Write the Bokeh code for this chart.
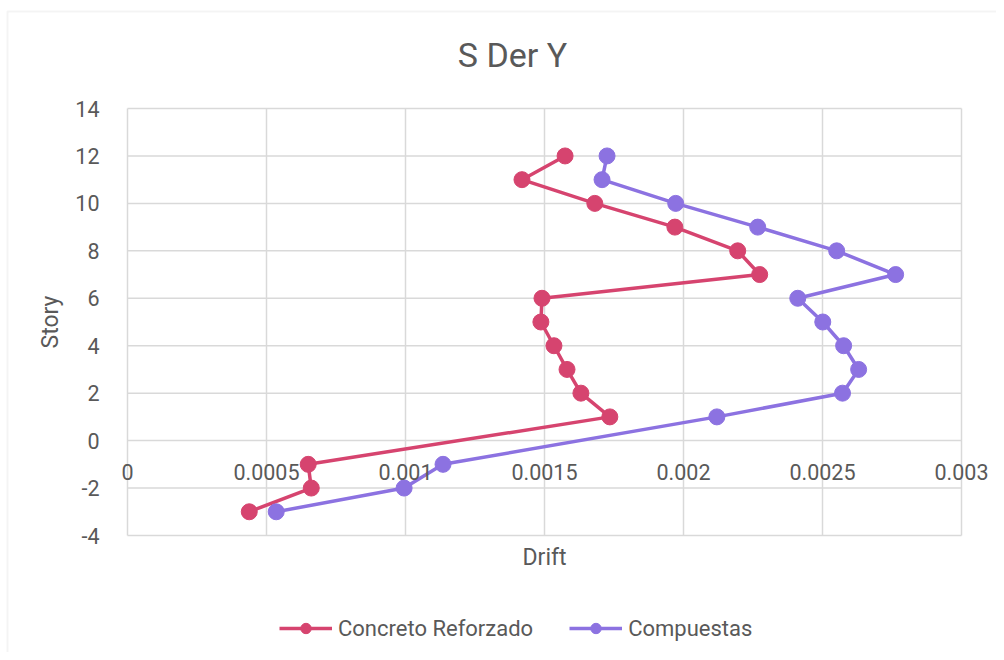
from bokeh.plotting import figure
from bokeh.models import (Range1d, FixedTicker, CustomJSTickFormatter, LinearAxis,
                          Legend, LegendItem, Label, BoxAnnotation)
from bokeh.embed import file_html
from bokeh.resources import INLINE

stories = [12, 11, 10, 9, 8, 7, 6, 5, 4, 3, 2, 1, -1, -2, -3]
concreto = [0.001574, 0.001419, 0.001681, 0.001969, 0.002195, 0.002274, 0.001491,
            0.001487, 0.001534, 0.001581, 0.001631, 0.001735, 0.000650, 0.000661, 0.000438]
compuestas = [0.001725, 0.001707, 0.001972, 0.002267, 0.002551, 0.002763, 0.002411,
              0.002501, 0.002576, 0.002630, 0.002572, 0.002120, 0.001135, 0.000995, 0.000535]
x_ticks = [0, 0.0005, 0.001, 0.0015, 0.002, 0.0025, 0.003]
y_ticks = [-4, -2, 0, 2, 4, 6, 8, 10, 12, 14]
series_names = ["Concreto Reforzado", "Compuestas"]

RED = "#D6446F"
PURPLE = "#8C72E1"
TXT = "#595959"
GRID = "#D9D9D9"
FONT = "Roboto"

# layout: the plot frame covers the whole canvas; the data box sits inside it
W, H = 996, 652
BOX_L, BOX_R, BOX_T, BOX_B = 127, 961, 108, 535   # pixel edges of the data box
XMIN, XMAX, YMIN, YMAX = x_ticks[0], x_ticks[-1], y_ticks[0], y_ticks[-1]
sx = (XMAX - XMIN) / (BOX_R - BOX_L)
sy = (YMAX - YMIN) / (BOX_B - BOX_T)
x_range = Range1d(XMIN - BOX_L * sx, XMIN + (W - BOX_L) * sx)
y_range = Range1d(YMAX - (H - BOX_T) * sy, YMAX + BOX_T * sy)

def px_x(px):
    return XMIN + (px - BOX_L) * sx

def px_y(py):
    return YMAX - (py - BOX_T) * sy

p = figure(width=W, height=H, output_backend="svg", toolbar_location=None,
           x_range=x_range, y_range=y_range, title=None,
           x_axis_location=None, y_axis_location=None,
           min_border=0, min_border_left=0, min_border_right=0,
           min_border_top=0, min_border_bottom=0)
p.outline_line_color = None
p.background_fill_color = "white"
p.border_fill_color = "white"
p.xgrid.visible = False
p.ygrid.visible = False

# chart-area border
p.add_layout(BoxAnnotation(left=px_x(7), right=px_x(W + 20), top=px_y(11), bottom=px_y(H + 20),
                           fill_alpha=0, line_color=GRID, line_width=2, level="underlay"))

# grid lines confined to the data box (from the tick lists)
p.segment(x0=x_ticks, x1=x_ticks, y0=[YMIN] * len(x_ticks), y1=[YMAX] * len(x_ticks),
          line_color=GRID, line_width=1.5)
p.segment(x0=[XMIN] * len(y_ticks), x1=[XMAX] * len(y_ticks), y0=y_ticks, y1=y_ticks,
          line_color=GRID, line_width=1.5)

fmt = "return tick.toString()"

# x axis crossing at y = 0 (labels only)
xa = LinearAxis(ticker=FixedTicker(ticks=x_ticks), fixed_location=0, bounds=(XMIN, XMAX),
                formatter=CustomJSTickFormatter(code=fmt))
xa.axis_line_color = None
xa.major_tick_line_color = None
xa.minor_tick_line_color = None
xa.major_label_text_font = FONT
xa.major_label_text_font_size = "21.5px"
xa.major_label_text_color = TXT
xa.major_label_standoff = 17
p.add_layout(xa, "below")

# y axis at x = 0
ya = LinearAxis(ticker=FixedTicker(ticks=y_ticks), fixed_location=0, bounds=(YMIN, YMAX),
                axis_label="Story", formatter=CustomJSTickFormatter(code=fmt))
ya.axis_line_color = None
ya.major_tick_line_color = None
ya.minor_tick_line_color = None
ya.major_label_text_font = FONT
ya.major_label_text_font_size = "21.5px"
ya.major_label_text_color = TXT
ya.major_label_standoff = 22
ya.axis_label_text_font = FONT
ya.axis_label_text_font_size = "23px"
ya.axis_label_text_font_style = "normal"
ya.axis_label_text_color = TXT
ya.axis_label_standoff = 8
p.add_layout(ya, "left")

# titles
p.add_layout(Label(x=px_x(512), y=px_y(54), text="S Der Y", text_font=FONT,
                   text_font_size="34px", text_color=TXT, text_align="center",
                   text_baseline="middle"))
p.add_layout(Label(x=(XMIN + XMAX) / 2, y=px_y(557), text="Drift", text_font=FONT,
                   text_font_size="23px", text_color=TXT, text_align="center",
                   text_baseline="middle"))

l1 = p.line(concreto, stories, line_color=RED, line_width=3.5)
s1 = p.scatter(concreto, stories, size=16, fill_color=RED, line_color=RED)
l2 = p.line(compuestas, stories, line_color=PURPLE, line_width=3.5)
s2 = p.scatter(compuestas, stories, size=16, fill_color=PURPLE, line_color=PURPLE)

legend = Legend(items=[LegendItem(label=series_names[0], renderers=[l1, s1]),
                       LegendItem(label=series_names[1], renderers=[l2, s2])],
                orientation="horizontal", location=(279, H - 641))
legend.label_text_font = FONT
legend.label_text_font_size = "22px"
legend.label_text_color = TXT
legend.glyph_width = 53
legend.glyph_height = 26
legend.label_standoff = 6
legend.spacing = 36
legend.border_line_color = None
legend.background_fill_alpha = 0
legend.margin = 0
legend.padding = 0
p.add_layout(legend, "center")

open("out.html", "w").write(file_html(p, INLINE))
